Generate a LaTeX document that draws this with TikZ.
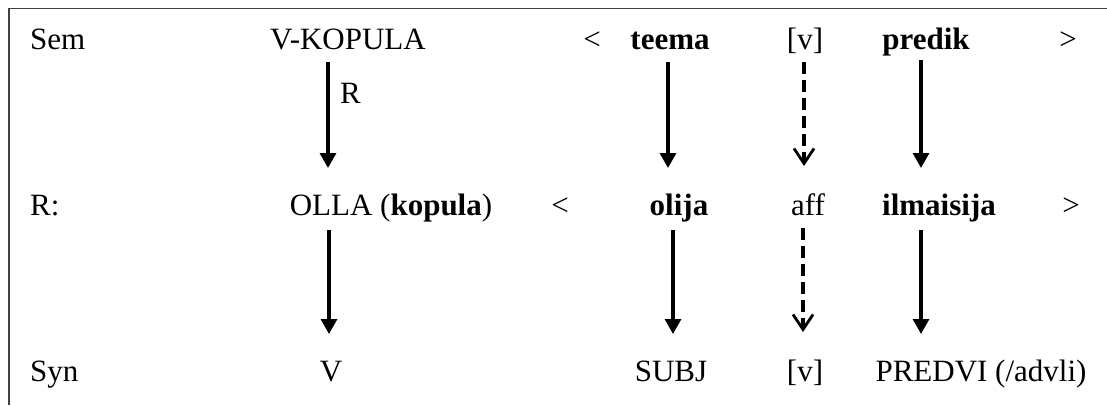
\documentclass[tikz,border=0pt]{standalone}
\usepackage{fontspec}
\setmainfont{Liberation Serif}
\usetikzlibrary{arrows.meta}
\begin{document}
\begin{tikzpicture}[x=1pt,y=-1pt,
  txt/.style={inner sep=0pt, anchor=base, font=\fontsize{31}{37}\selectfont},
  lft/.style={txt, anchor=base west},
  arr/.style={line width=3.2pt, -{Triangle[width=16pt,length=15pt]}},
  darr/.style={line width=3.2pt, dash pattern=on 12pt off 6pt, -{Straight Barb[width=20pt,length=15pt,line width=2.8pt]}}]
\useasboundingbox (0,0) rectangle (1107,405);
\draw[line width=1.8pt, black!75] (9,405) -- (9,8.5) -- (1107,8.5);
% row 1
\node[lft] (sem) at (30,49) {Sem};
\node[txt] (vk) at (348,49) {V-KOPULA};
\node[txt] (lt1) at (592,49) {<};
\node[txt] (teema) at (670,49) {\textbf{teema}};
\node[txt] (v1) at (805,49) {[v]};
\node[txt] (predik) at (926,49) {\textbf{predik}};
\node[txt] (gt1) at (1068,49) {>};
% row 2
\node[lft] (r) at (30,215) {R:};
\node[txt] (olla) at (391,215) {OLLA (\textbf{kopula})};
\node[txt] (lt2) at (560,215) {<};
\node[txt] (olija) at (679,215) {\textbf{olija}};
\node[txt] (aff) at (808,215) {aff};
\node[txt] (ilm) at (939,215) {\textbf{ilmaisija}};
\node[txt] (gt2) at (1071,215) {>};
% row 3
\node[lft] (syn) at (30,381) {Syn};
\node[txt] (v) at (331,381) {V};
\node[txt] (subj) at (671,381) {SUBJ};
\node[txt] (v2) at (805,381) {[v]};
\node[txt] (pred) at (981,381) {PREDVI (/advli)};
% label
\node[lft] (rl) at (340,103) {R};
% arrow end points
\coordinate (s1) at (328,62);  \coordinate (e1) at (328,168);
\coordinate (s2) at (668,62);  \coordinate (e2) at (668,168);
\coordinate (s3) at (804,62);  \coordinate (e3) at (804,166);
\coordinate (s4) at (921,60);  \coordinate (e4) at (921,168);
\coordinate (t1) at (329,230); \coordinate (f1) at (329,334);
\coordinate (t2) at (673,230); \coordinate (f2) at (673,334);
\coordinate (t3) at (803,228); \coordinate (f3) at (803,332);
\coordinate (t4) at (921,230); \coordinate (f4) at (921,334);
\draw[arr] (s1) -- (e1);
\draw[arr] (s2) -- (e2);
\draw[darr] (s3) -- (e3);
\draw[arr] (s4) -- (e4);
\draw[arr] (t1) -- (f1);
\draw[arr] (t2) -- (f2);
\draw[darr] (t3) -- (f3);
\draw[arr] (t4) -- (f4);
\end{tikzpicture}
\end{document}
